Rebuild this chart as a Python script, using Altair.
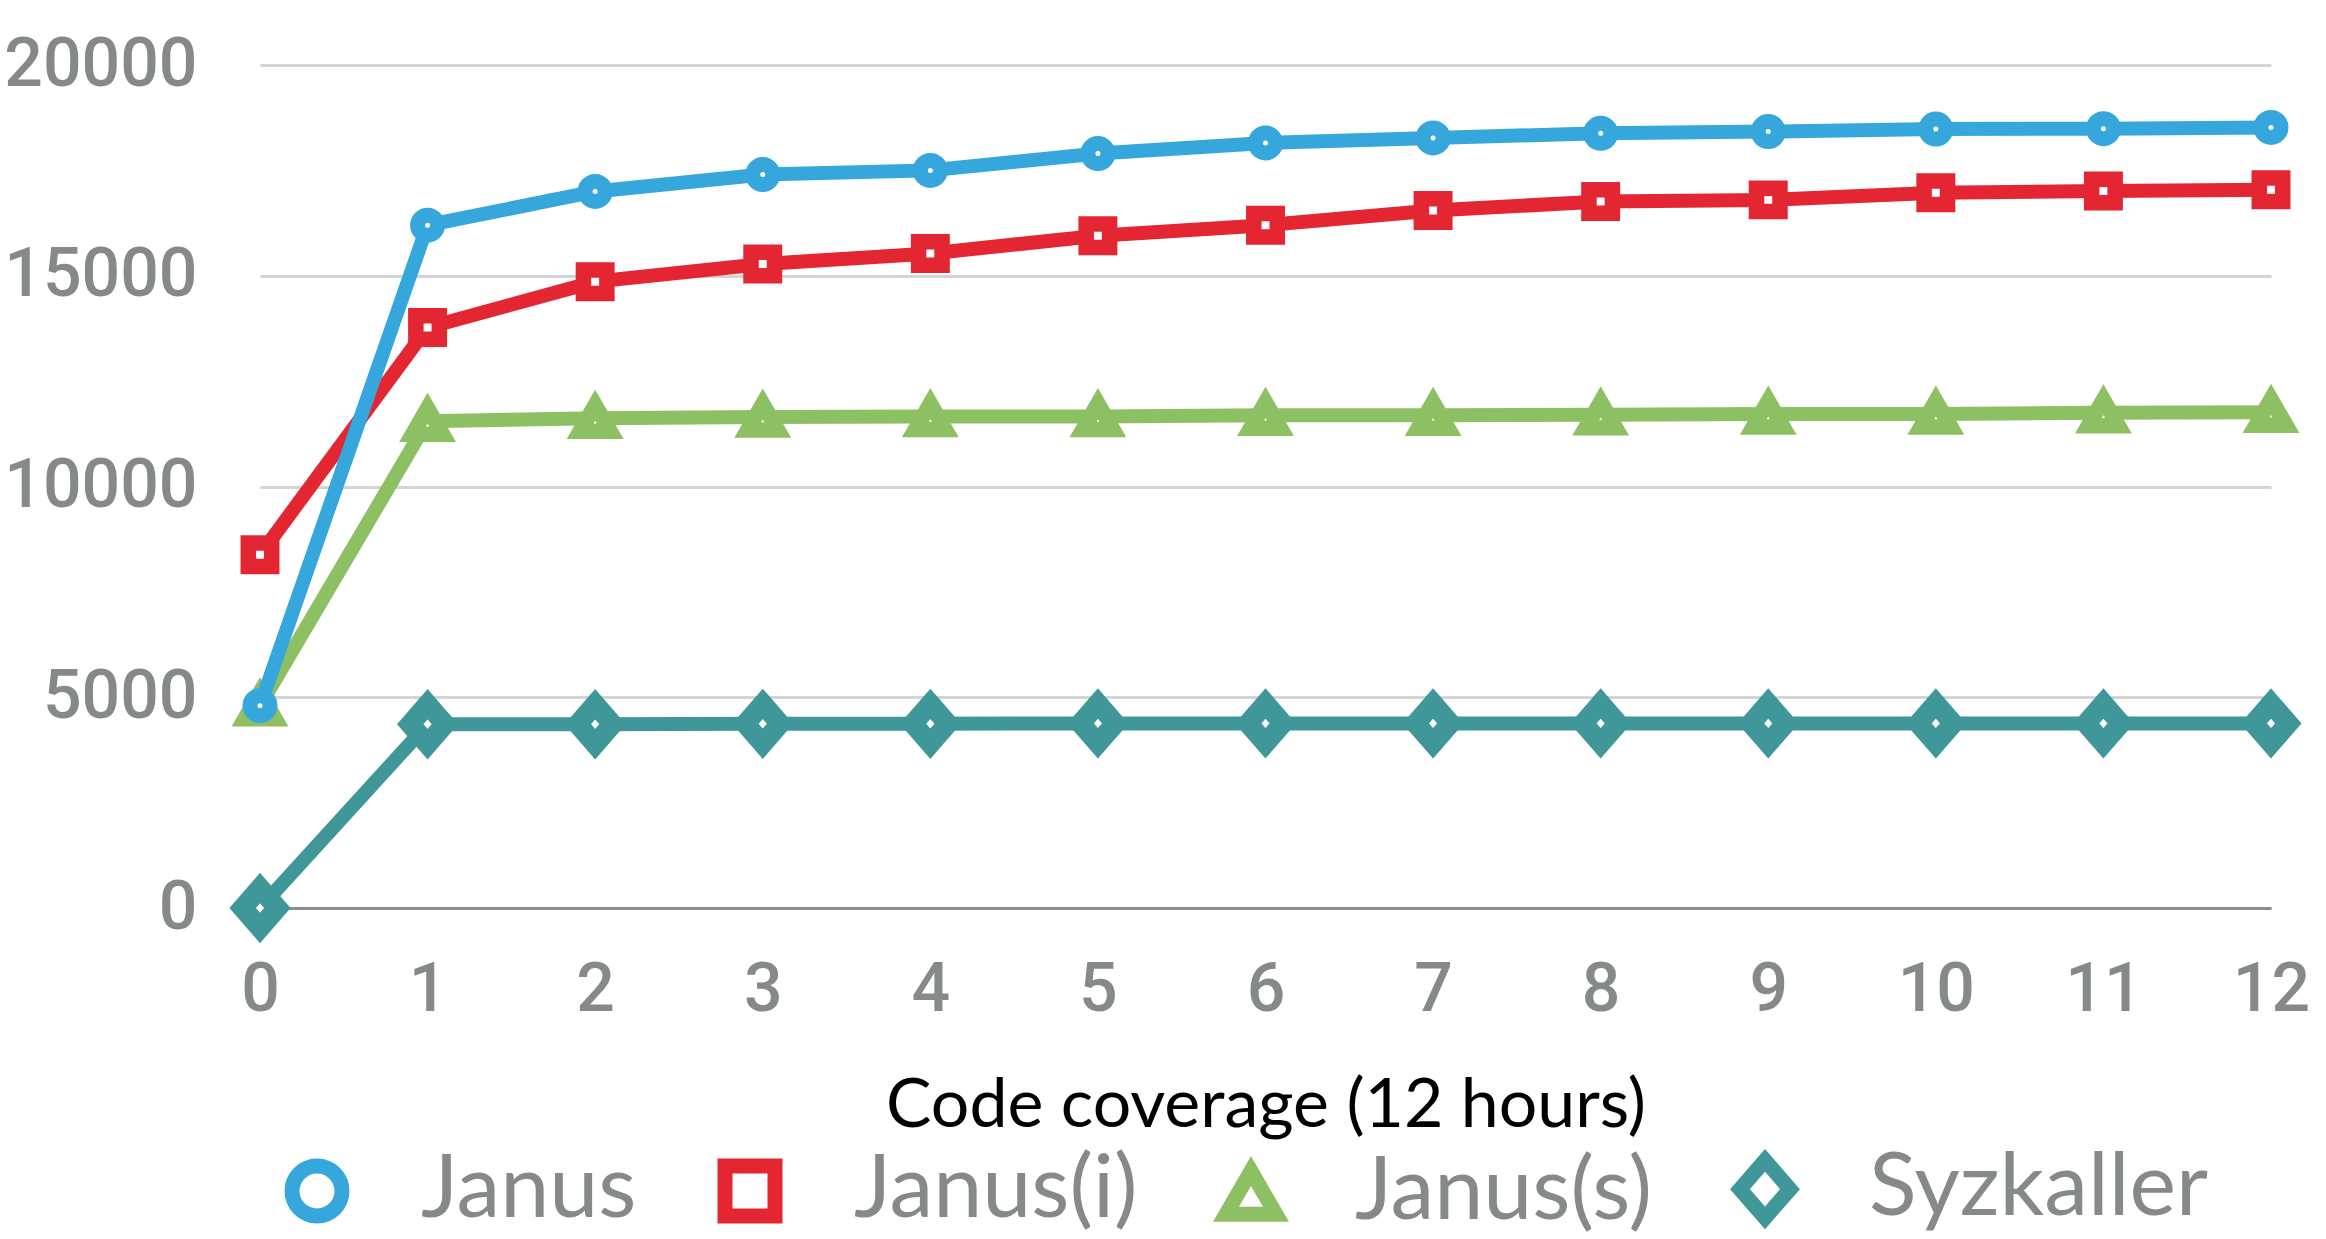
import altair as alt
import pandas as pd

# Hours of fuzzing
hours = list(range(13))

# Coverage per tool, one value per hour
series_names = ["Janus", "Janus(i)", "Janus(s)", "Syzkaller"]
janus = [4800, 16200, 17000, 17400, 17500, 17900, 18150, 18270, 18380, 18420, 18480, 18490, 18520]
janus_i = [8380, 13770, 14860, 15280, 15530, 15950, 16200, 16550, 16760, 16800, 16970, 17010, 17040]
janus_s = [4800, 11550, 11620, 11650, 11660, 11660, 11690, 11690, 11700, 11720, 11720, 11750, 11760]
syzkaller = [0, 4360, 4360, 4370, 4370, 4380, 4380, 4380, 4380, 4380, 4380, 4380, 4380]

colors = ["#36a7dc", "#e32631", "#8dc063", "#40979a"]
# a slightly tall diamond drawn as a custom path
shapes = ["circle", "square", "triangle-up", "M0,-1.15L1,0L0,1.15L-1,0Z"]
marker_sizes = [400, 550, 900, 1200]
marker_strokes = [15, 15.5, 15.5, 20]
y_ticks = [0, 5000, 10000, 15000, 20000]

frames = {}
for name, vals, msize, mstroke in zip(
    series_names, [janus, janus_i, janus_s, syzkaller], marker_sizes, marker_strokes
):
    frames[name] = pd.DataFrame(
        {"series": name, "hour": hours, "coverage": vals, "msize": msize, "mstroke": mstroke}
    )

GRAY = "#85898a"
NUM_FONT = "Roboto, sans-serif"
TEXT_FONT = "Lato, Open Sans, sans-serif"

x_enc = alt.X(
    "hour:Q",
    scale=alt.Scale(domain=[0, 12], nice=False, zero=False),
    axis=alt.Axis(
        values=hours, format="d", title="Code coverage (12 hours)",
        grid=False, ticks=False, domain=True, domainColor="#888c8c", domainWidth=3,
        labelFont=NUM_FONT, labelFontSize=68, labelFontWeight=500,
        labelColor=GRAY, labelPadding=48, labelFlush=False,
        titleFont=TEXT_FONT, titleFontSize=68, titleFontWeight="normal",
        titleColor="#000000", titlePadding=48,
    ),
)
y_enc = alt.Y(
    "coverage:Q",
    scale=alt.Scale(domain=[0, 20000], nice=False),
    axis=alt.Axis(
        values=y_ticks, format="d", title=None,
        grid=True, gridColor="#d3d5d5", gridWidth=3,
        ticks=False, domain=False,
        labelFont=NUM_FONT, labelFontSize=68, labelFontWeight=500,
        labelColor=GRAY, labelPadding=63, labelLimit=400,
    ),
)

color_scale = alt.Scale(domain=series_names, range=colors)
shape_scale = alt.Scale(domain=series_names, range=shapes)
legend_def = alt.Legend(title=None)

# Each series gets its line and then its markers; Janus is drawn last (on top)
layers = []
for name in reversed(series_names):
    src = frames[name]
    line = alt.Chart(src).mark_line(strokeWidth=14, clip=False).encode(
        x=x_enc,
        y=y_enc,
        color=alt.Color("series:N", scale=color_scale, legend=legend_def),
    )
    pts = alt.Chart(src).mark_point(
        filled=False, fill="white", fillOpacity=1, opacity=1, clip=False
    ).encode(
        x=x_enc,
        y=y_enc,
        color=alt.Color("series:N", scale=color_scale, legend=legend_def),
        shape=alt.Shape("series:N", scale=shape_scale, legend=legend_def),
        size=alt.Size("msize:Q", scale=None),
        strokeWidth=alt.StrokeWidth("mstroke:Q", scale=None),
    )
    layers += [line, pts]

chart = (
    alt.layer(*layers)
    .properties(
        width=2011,
        height=843,
        autosize=alt.AutoSizeParams(type="none"),
        padding={"left": 260, "top": 65, "right": 55, "bottom": 331},
    )
    .configure_view(stroke=None)
    .configure_legend(
        orient="none",
        legendX=13,
        legendY=1080,
        direction="horizontal",
        labelFont=TEXT_FONT,
        labelFontSize=88,
        labelColor=GRAY,
        labelOffset=60,
        symbolSize=2500,
        symbolStrokeWidth=15,
        symbolFillColor="white",
        columnPadding=58,
        labelLimit=600,
    )
)

chart.save("out.html", embed_options={"renderer": "svg", "actions": False})
